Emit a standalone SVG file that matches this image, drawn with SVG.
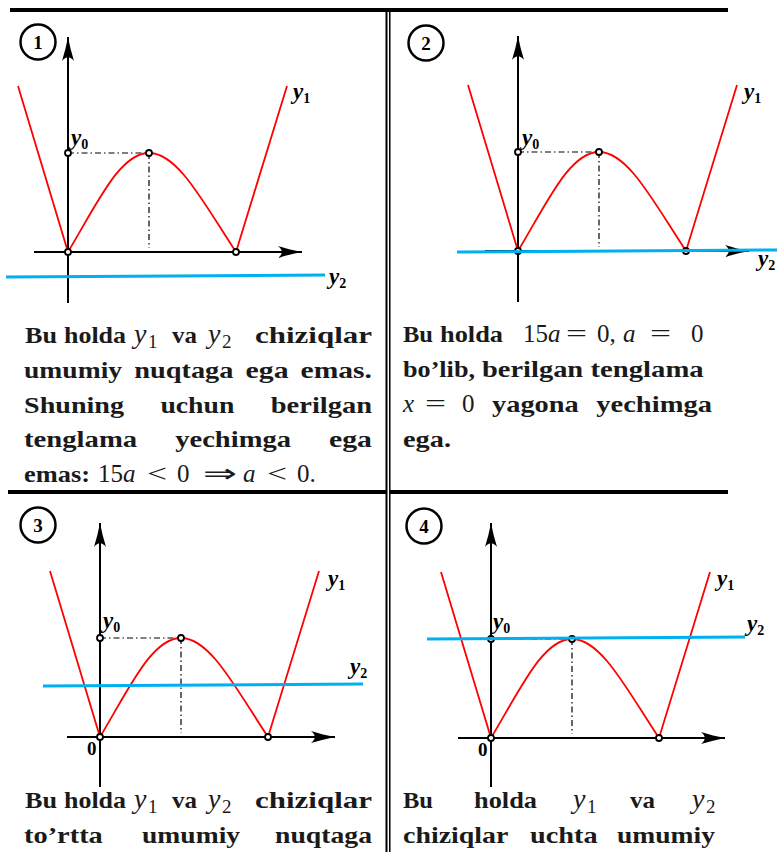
<svg xmlns="http://www.w3.org/2000/svg" width="779" height="852" viewBox="0 0 779 852">
<defs>
<style>
.ax{stroke:#000;stroke-width:2;fill:none}
.red{stroke:#ff0000;stroke-width:1.8;fill:none}
.blue{stroke:#00b0f0;stroke-width:3;fill:none}
.dd{stroke:#000;stroke-width:1.2;stroke-dasharray:6 3 1.5 3;fill:none}
.pt{fill:#fff;stroke:#000;stroke-width:1.8}
.num{fill:none;stroke:#000;stroke-width:2.5}
.numt{font-family:"Liberation Serif",serif;font-weight:bold;font-size:19px;text-anchor:middle;fill:#000}
.lab{font-family:"Liberation Serif",serif;font-weight:bold;font-style:italic;font-size:23px;fill:#000}
.ls{font-size:14px;font-style:normal}
.zero{font-family:"Liberation Serif",serif;font-weight:bold;font-size:19px;fill:#000}
.t{font-family:"Liberation Serif",serif;font-weight:bold;font-size:23px;fill:#1a1a1a}
.m{font-family:"Liberation Serif",serif;font-style:italic;font-weight:normal;font-size:25px;fill:#1a1a1a}
.my{font-family:"Liberation Serif",serif;font-style:italic;font-weight:normal;font-size:28px;fill:#1a1a1a}
.mr{font-family:"Liberation Serif",serif;font-weight:normal;font-size:25px;fill:#1a1a1a}
.s{font-family:"Liberation Serif",serif;font-weight:normal;font-size:19px;fill:#1a1a1a}
.fr{stroke:#000;fill:none}
</style>
<marker id="ah" markerUnits="userSpaceOnUse" markerWidth="28" markerHeight="16" viewBox="-26 -8 28 16" refX="0" refY="0" orient="auto">
<path d="M0,0 C-8,-1.5 -16,-3.5 -24,-6 C-19,-2 -19,2 -24,6 C-16,3.5 -8,1.5 0,0Z" fill="#000"/>
</marker>
<path id="curve" d="M-50,-166 L0,0 C30,-50 52,-99 81,-99 C110,-99 135,-50 168,0 L219,-166"/>
</defs>

<g id="frame" class="fr">
<line x1="10" y1="10" x2="728" y2="10" stroke-width="4"/>
<line x1="8" y1="492" x2="386" y2="492" stroke-width="4"/>
<line x1="390" y1="492" x2="728" y2="492" stroke-width="4"/>
<line x1="386.5" y1="8" x2="386.5" y2="852" stroke-width="2"/>
<line x1="389.8" y1="8" x2="389.8" y2="852" stroke-width="1.5"/>
</g>

<g id="panel1" transform="translate(68,252)">
<circle class="num" cx="-30" cy="-210" r="17.5"/>
<text class="numt" x="-30" y="-203.5">1</text>
<line class="ax" x1="0" y1="51" x2="0" y2="-215" marker-end="url(#ah)"/>
<line class="ax" x1="-34" y1="0" x2="234" y2="0" marker-end="url(#ah)"/>
<path class="dd" d="M0,-99 H81 V-4"/>
<use href="#curve" class="red"/>
<circle class="pt" cx="0" cy="-99" r="3"/>
<circle class="pt" cx="81" cy="-99" r="3"/>
<circle class="pt" cx="0" cy="0" r="3"/>
<circle class="pt" cx="168" cy="0" r="3"/>
<line class="blue" x1="-62" y1="25" x2="257" y2="23"/>
<text class="lab" x="225" y="-153">y<tspan class="ls" dy="4">1</tspan></text>
<text class="lab" x="3" y="-107">y<tspan class="ls" dy="4">0</tspan></text>
<text class="lab" x="261" y="32">y<tspan class="ls" dy="4">2</tspan></text>
</g>

<g id="panel2" transform="translate(518,251)">
<circle class="num" cx="-92" cy="-208" r="17.5"/>
<text class="numt" x="-92" y="-201.5">2</text>
<line class="ax" x1="0" y1="51" x2="0" y2="-215" marker-end="url(#ah)"/>
<line class="ax" x1="-33" y1="0" x2="231" y2="0" marker-end="url(#ah)"/>
<path class="dd" d="M0,-99 H81 V-4"/>
<use href="#curve" class="red"/>
<circle class="pt" cx="0" cy="-99" r="3"/>
<circle class="pt" cx="81" cy="-99" r="3"/>
<circle class="pt" cx="0" cy="0" r="3"/>
<circle class="pt" cx="168" cy="0" r="3"/>
<line class="blue" x1="-61" y1="1" x2="259" y2="-1"/>
<text class="lab" x="226" y="-152">y<tspan class="ls" dy="4">1</tspan></text>
<text class="lab" x="4" y="-106">y<tspan class="ls" dy="4">0</tspan></text>
<text class="lab" x="240" y="15">y<tspan class="ls" dy="4">2</tspan></text>
</g>

<g id="panel3" transform="translate(100,737)">
<circle class="num" cx="-62" cy="-212" r="17.5"/>
<text class="numt" x="-62" y="-205.5">3</text>
<line class="ax" x1="0" y1="50" x2="0" y2="-214" marker-end="url(#ah)"/>
<line class="ax" x1="-33" y1="0" x2="235" y2="0" marker-end="url(#ah)"/>
<path class="dd" d="M0,-99 H81 V-4"/>
<use href="#curve" class="red"/>
<circle class="pt" cx="0" cy="-99" r="3"/>
<circle class="pt" cx="81" cy="-99" r="3"/>
<circle class="pt" cx="0" cy="0" r="3"/>
<circle class="pt" cx="168" cy="0" r="3"/>
<line class="blue" x1="-57" y1="-51" x2="263" y2="-53"/>
<text class="lab" x="228" y="-151">y<tspan class="ls" dy="4">1</tspan></text>
<text class="lab" x="3" y="-109">y<tspan class="ls" dy="4">0</tspan></text>
<text class="lab" x="250" y="-63">y<tspan class="ls" dy="4">2</tspan></text>
<text class="zero" x="-13" y="18">0</text>
</g>

<g id="panel4" transform="translate(491,738)">
<circle class="num" cx="-67" cy="-212" r="17.5"/>
<text class="numt" x="-67" y="-205.5">4</text>
<line class="ax" x1="0" y1="49" x2="0" y2="-215" marker-end="url(#ah)"/>
<line class="ax" x1="-33" y1="0" x2="234" y2="0" marker-end="url(#ah)"/>
<path class="dd" d="M0,-99 H81 V-4"/>
<use href="#curve" class="red"/>
<circle class="pt" cx="0" cy="-99" r="3"/>
<circle class="pt" cx="81" cy="-99" r="3"/>
<circle class="pt" cx="0" cy="0" r="3"/>
<circle class="pt" cx="168" cy="0" r="3"/>
<line class="blue" x1="-64" y1="-99" x2="254" y2="-101"/>
<text class="lab" x="226" y="-152">y<tspan class="ls" dy="4">1</tspan></text>
<text class="lab" x="2" y="-109">y<tspan class="ls" dy="4">0</tspan></text>
<text class="lab" x="256" y="-107">y<tspan class="ls" dy="4">2</tspan></text>
<text class="zero" x="-13" y="18">0</text>
</g>

<g id="text1">
<text class="t" x="25" y="343" textLength="32" lengthAdjust="spacingAndGlyphs">Bu</text>
<text class="t" x="64" y="343" textLength="62" lengthAdjust="spacingAndGlyphs">holda</text>
<text class="my" x="134" y="343">y</text>
<text class="s" x="148" y="348">1</text>
<text class="t" x="172" y="343" textLength="25" lengthAdjust="spacingAndGlyphs">va</text>
<text class="my" x="208" y="343">y</text>
<text class="s" x="222" y="348">2</text>
<text class="t" x="255" y="343" textLength="117" lengthAdjust="spacingAndGlyphs">chiziqlar</text>
<text class="t" x="24" y="378" textLength="98.1" lengthAdjust="spacingAndGlyphs">umumiy</text>
<text class="t" x="134.2" y="378" textLength="99.3" lengthAdjust="spacingAndGlyphs">nuqtaga</text>
<text class="t" x="245.6" y="378" textLength="43" lengthAdjust="spacingAndGlyphs">ega</text>
<text class="t" x="300.6" y="378" textLength="71.4" lengthAdjust="spacingAndGlyphs">emas.</text>
<text class="t" x="24" y="413" textLength="100" lengthAdjust="spacingAndGlyphs">Shuning</text>
<text class="t" x="160.4" y="413" textLength="74" lengthAdjust="spacingAndGlyphs">uchun</text>
<text class="t" x="270.8" y="413" textLength="101.2" lengthAdjust="spacingAndGlyphs">berilgan</text>
<text class="t" x="24" y="447" textLength="113.2" lengthAdjust="spacingAndGlyphs">tenglama</text>
<text class="t" x="175.2" y="447" textLength="115.8" lengthAdjust="spacingAndGlyphs">yechimga</text>
<text class="t" x="329" y="447" textLength="43" lengthAdjust="spacingAndGlyphs">ega</text>
<text class="t" x="24" y="482" textLength="66" lengthAdjust="spacingAndGlyphs">emas:</text>
<text class="mr" x="98" y="482">15<tspan class="m">a</tspan></text>
<text class="mr" x="147" y="482" textLength="20" lengthAdjust="spacingAndGlyphs">&lt;</text>
<text class="mr" x="177" y="482">0</text>
<text class="mr" x="203" y="482" textLength="34" lengthAdjust="spacingAndGlyphs">⇒</text>
<text class="m" x="243" y="482">a</text>
<text class="mr" x="267" y="482" textLength="20" lengthAdjust="spacingAndGlyphs">&lt;</text>
<text class="mr" x="297" y="482">0.</text>
</g>

<g id="text2">
<text class="t" x="403" y="342" textLength="30" lengthAdjust="spacingAndGlyphs">Bu</text>
<text class="t" x="440" y="342" textLength="63" lengthAdjust="spacingAndGlyphs">holda</text>
<text class="mr" x="523" y="342">15<tspan class="m">a</tspan></text>
<text class="mr" x="566" y="342" textLength="21" lengthAdjust="spacingAndGlyphs">=</text>
<text class="mr" x="597" y="342">0,</text>
<text class="m" x="623" y="342">a</text>
<text class="mr" x="650" y="342" textLength="21" lengthAdjust="spacingAndGlyphs">=</text>
<text class="mr" x="691" y="342">0</text>
<text class="t" x="403" y="377" textLength="72" lengthAdjust="spacingAndGlyphs">bo’lib,</text>
<text class="t" x="482" y="377" textLength="101.2" lengthAdjust="spacingAndGlyphs">berilgan</text>
<text class="t" x="590.5" y="377" textLength="113.2" lengthAdjust="spacingAndGlyphs">tenglama</text>
<text class="m" x="403" y="412">x</text>
<text class="mr" x="425" y="412" textLength="21" lengthAdjust="spacingAndGlyphs">=</text>
<text class="mr" x="462" y="412">0</text>
<text class="t" x="492" y="412" textLength="86.8" lengthAdjust="spacingAndGlyphs">yagona</text>
<text class="t" x="596.2" y="412" textLength="115.8" lengthAdjust="spacingAndGlyphs">yechimga</text>
<text class="t" x="403" y="447" textLength="48" lengthAdjust="spacingAndGlyphs">ega.</text>
</g>

<g id="text3">
<text class="t" x="25" y="808" textLength="32" lengthAdjust="spacingAndGlyphs">Bu</text>
<text class="t" x="64" y="808" textLength="62" lengthAdjust="spacingAndGlyphs">holda</text>
<text class="my" x="134" y="808">y</text>
<text class="s" x="148" y="813">1</text>
<text class="t" x="172" y="808" textLength="25" lengthAdjust="spacingAndGlyphs">va</text>
<text class="my" x="208" y="808">y</text>
<text class="s" x="222" y="813">2</text>
<text class="t" x="255" y="808" textLength="117" lengthAdjust="spacingAndGlyphs">chiziqlar</text>
<text class="t" x="24" y="843" textLength="78.8" lengthAdjust="spacingAndGlyphs">to’rtta</text>
<text class="t" x="142" y="843" textLength="98.1" lengthAdjust="spacingAndGlyphs">umumiy</text>
<text class="t" x="275" y="843" textLength="97" lengthAdjust="spacingAndGlyphs">nuqtaga</text>
</g>

<g id="text4">
<text class="t" x="403" y="808" textLength="30" lengthAdjust="spacingAndGlyphs">Bu</text>
<text class="t" x="474" y="808" textLength="63" lengthAdjust="spacingAndGlyphs">holda</text>
<text class="my" x="573" y="808">y</text>
<text class="s" x="587" y="813">1</text>
<text class="t" x="630" y="808" textLength="25" lengthAdjust="spacingAndGlyphs">va</text>
<text class="my" x="692" y="808">y</text>
<text class="s" x="706" y="813">2</text>
<text class="t" x="403" y="843" textLength="105.4" lengthAdjust="spacingAndGlyphs">chiziqlar</text>
<text class="t" x="530" y="843" textLength="67.6" lengthAdjust="spacingAndGlyphs">uchta</text>
<text class="t" x="617" y="843" textLength="98" lengthAdjust="spacingAndGlyphs">umumiy</text>
</g>
</svg>
